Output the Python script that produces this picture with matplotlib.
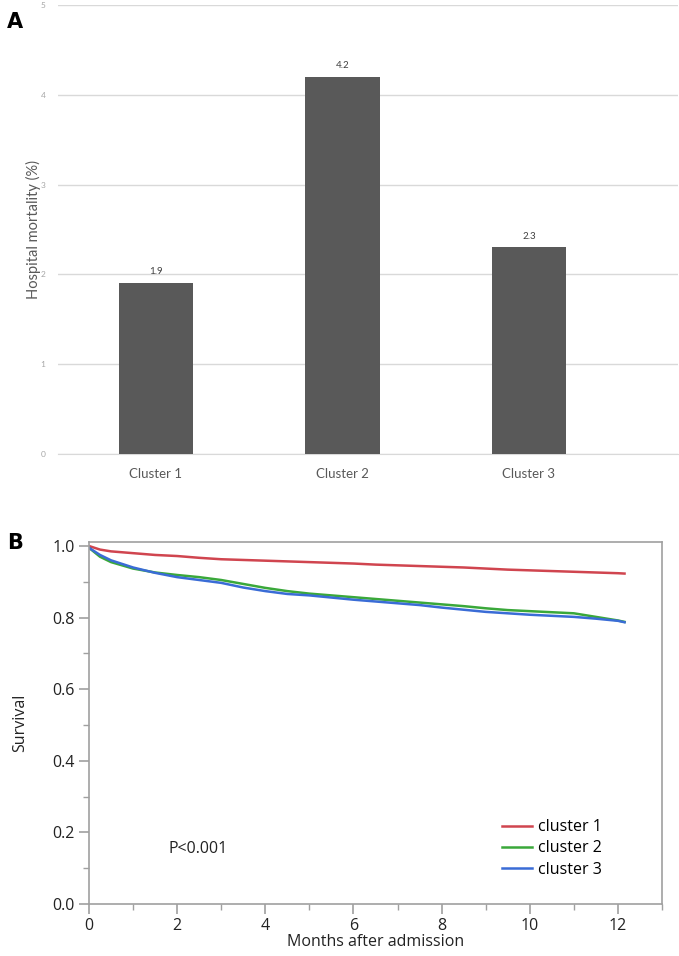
import matplotlib
matplotlib.use("Agg")
import matplotlib.pyplot as plt
from matplotlib.ticker import MultipleLocator

# ---------------- data ----------------
clusters = ["Cluster 1", "Cluster 2", "Cluster 3"]
mortality = [1.9, 4.2, 2.3]
mortality_labels = ["1.9", "4.2", "2.3"]

months = [0, 0.25, 0.5, 1, 1.5, 2, 2.5, 3, 3.5, 4, 4.5, 5, 5.5, 6, 6.5,
          7, 7.5, 8, 8.5, 9, 9.5, 10, 10.5, 11, 11.5, 12, 12.15]
surv_c1 = [1.0, 0.99, 0.985, 0.98, 0.975, 0.972, 0.967, 0.963, 0.961, 0.959,
           0.957, 0.955, 0.953, 0.951, 0.948, 0.946, 0.944, 0.942, 0.940,
           0.937, 0.934, 0.932, 0.930, 0.928, 0.926, 0.924, 0.923]
surv_c2 = [0.995, 0.97, 0.955, 0.937, 0.926, 0.919, 0.913, 0.905, 0.894,
           0.883, 0.874, 0.867, 0.862, 0.857, 0.852, 0.847, 0.842, 0.837,
           0.832, 0.826, 0.821, 0.818, 0.815, 0.812, 0.802, 0.792, 0.788]
surv_c3 = [0.995, 0.975, 0.96, 0.94, 0.925, 0.913, 0.905, 0.897, 0.884,
           0.874, 0.866, 0.862, 0.856, 0.850, 0.845, 0.840, 0.835, 0.828,
           0.822, 0.816, 0.812, 0.808, 0.805, 0.802, 0.797, 0.791, 0.787]
legend_labels = ["cluster 1", "cluster 2", "cluster 3"]

W, H = 679, 956
fig = plt.figure(figsize=(W / 100, H / 100), dpi=100)

# ---------------- panel A ----------------
axA = fig.add_axes([58 / W, (H - 454) / H, (678 - 58) / W, (454 - 5) / H])
axA.set_ylim(0, 5)
axA.set_xlim(-0.525, 2.80)
axA.yaxis.set_major_locator(MultipleLocator(1))
axA.grid(axis="y", color="#d9d9d9", linewidth=1.0)
axA.set_axisbelow(True)
bars = axA.bar(range(len(clusters)), mortality, width=0.4, color="#595959", zorder=3)
for b, lab in zip(bars, mortality_labels):
    axA.annotate(lab, (b.get_x() + b.get_width() / 2, b.get_height()),
                 xytext=(0, 5), textcoords="offset points", ha="center",
                 va="bottom", fontsize=7, color="#404040", family="Lato")
for s in ["top", "right", "left"]:
    axA.spines[s].set_visible(False)
axA.spines["bottom"].set_color("#d9d9d9")
axA.set_xticks(range(len(clusters)))
axA.set_xticklabels(clusters, family="Lato", fontsize=9.5, color="#595959")
axA.tick_params(axis="x", length=0, pad=10)
axA.tick_params(axis="y", length=0, pad=9, labelsize=6, labelcolor="#a6a6a6")
for t in axA.get_yticklabels():
    t.set_family("Lato")
axA.set_ylabel("Hospital mortality (%)", family="Lato", fontsize=10.5, color="#595959",
               labelpad=0)
fig.text(7 / W, 1 - 22 / H, "A", fontsize=15, fontweight="bold", va="center",
         ha="left", family="DejaVu Sans")

# ---------------- panel B ----------------
gray = "#a0a0a0"
fontB = "Open Sans"
ylo, yhi = 0, 1.01
y0px, y1px = 904, 904 - 358 * yhi
axB = fig.add_axes([89 / W, (H - y0px) / H, (662 - 89) / W, (y0px - y1px) / H])
colors = ["#d0454f", "#3aa83a", "#3a6cd6"]
for s, c, lab in zip([surv_c1, surv_c2, surv_c3], colors, legend_labels):
    axB.plot(months, s, color=c, linewidth=1.8, label=lab)
axB.set_xlim(0, 13)
axB.set_ylim(ylo, yhi)
axB.xaxis.set_major_locator(MultipleLocator(2))
axB.xaxis.set_minor_locator(MultipleLocator(1))
axB.yaxis.set_minor_locator(MultipleLocator(0.1))
axB.set_yticks([0, 0.2, 0.4, 0.6, 0.8, 1.0])
axB.set_yticklabels(["0.0", "0.2", "0.4", "0.6", "0.8", "1.0"])
for sp in axB.spines.values():
    sp.set_color(gray)
    sp.set_linewidth(1.2)
axB.tick_params(which="major", direction="out", length=7, width=1.2, color=gray,
                labelsize=11.5, labelcolor="#222222", pad=3)
axB.tick_params(which="minor", direction="out", length=4, width=1.0, color=gray)
for t in axB.get_xticklabels() + axB.get_yticklabels():
    t.set_family(fontB)
axB.set_xlabel("Months after admission", family=fontB, fontsize=11.5,
               color="#222222", labelpad=0)
axB.set_ylabel("Survival", family=fontB, fontsize=11.5, color="#222222", labelpad=18)
axB.text((168 - 89) / (662 - 89), (y0px - 849) / (y0px - y1px), "P<0.001",
         transform=axB.transAxes, family=fontB, fontsize=11.5, color="#222222",
         va="center", ha="left")
leg = axB.legend(loc="lower right", bbox_to_anchor=((608 - 89) / (662 - 89),
                 (y0px - 884) / (y0px - y1px)), frameon=False,
                 prop={"family": fontB, "size": 11.5}, handlelength=1.9,
                 handletextpad=0.35, labelspacing=0.32, borderaxespad=0)
fig.text(7 / W, 1 - 543 / H, "B", fontsize=15, fontweight="bold", va="center",
         ha="left", family="DejaVu Sans")

fig.savefig("out.png", dpi=100)
